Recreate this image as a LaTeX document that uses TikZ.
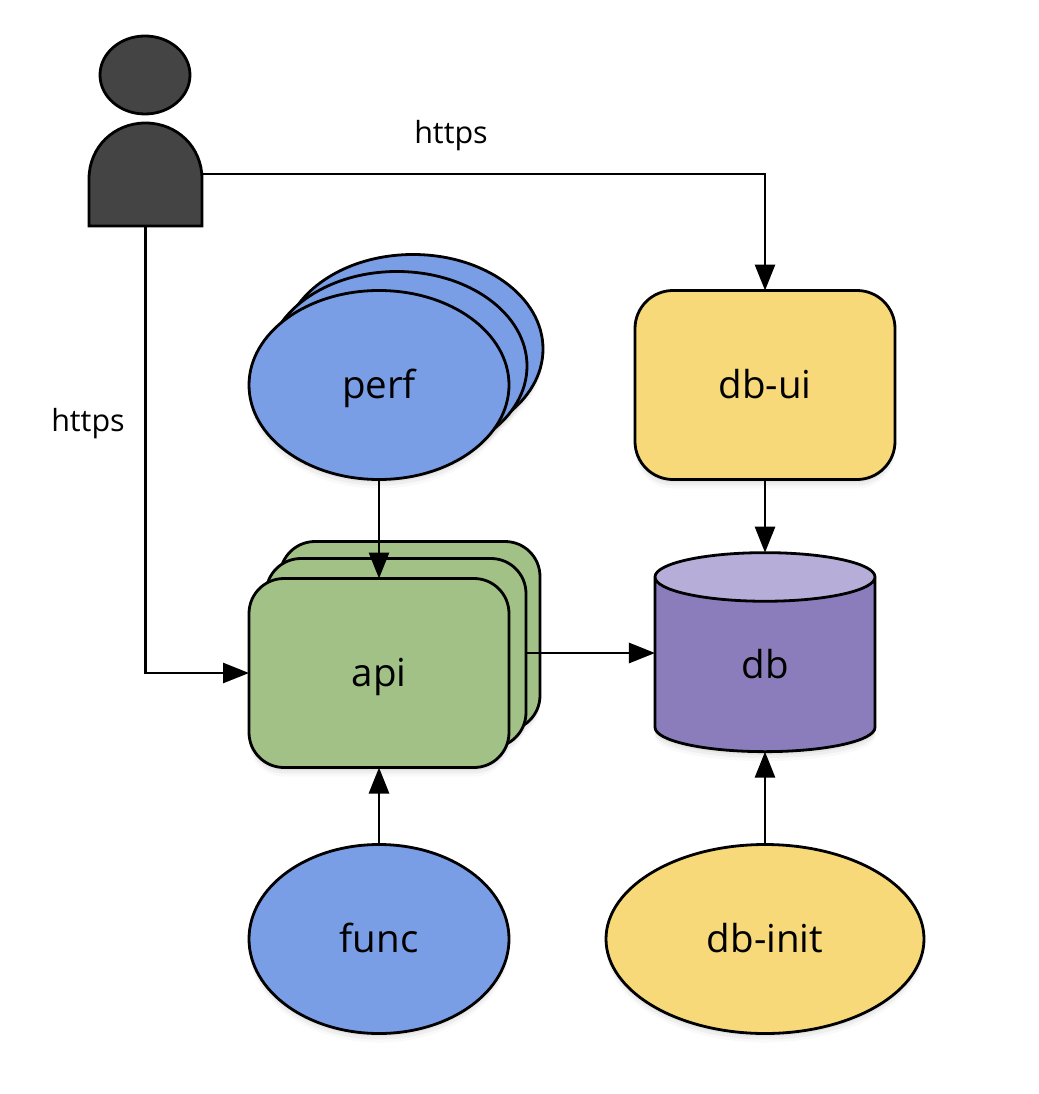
\documentclass[tikz,border=0pt]{standalone}
\usepackage{fontspec}
\setmainfont{Open Sans}
\usetikzlibrary{arrows.meta,shapes.geometric,shadows}
\definecolor{perfblue}{HTML}{7A9EE6}
\definecolor{uiyellow}{HTML}{F7D97A}
\definecolor{apigreen}{HTML}{A1C186}
\definecolor{dbpurple}{HTML}{8B7DBB}
\definecolor{dbtop}{HTML}{B6AED8}
\definecolor{userdark}{HTML}{444444}
\tikzset{
	softshade/.style={drop shadow={shadow xshift=0pt,shadow yshift=-3pt,opacity=.10},drop shadow={shadow xshift=0pt,shadow yshift=-6pt,opacity=.08},drop shadow={shadow xshift=0pt,shadow yshift=-9pt,opacity=.05}},
	bigtext/.style={font=\fontsize{38.5}{42}\selectfont,text height=26pt,text depth=0pt},
	oval/.style={ellipse,draw=black,line width=2.8pt,inner sep=0pt,outer sep=0pt,bigtext,softshade},
	card/.style={rectangle,draw=black,line width=2.8pt,inner sep=0pt,outer sep=0pt,minimum width=260pt,minimum height=189pt,bigtext,softshade},
	dbcan/.style={cylinder,shape border rotate=90,aspect=1.03,draw=black,line width=2.8pt,minimum width=220pt,minimum height=199pt,inner sep=0pt,outer sep=0pt,bigtext},
	link/.style={draw=black,line width=2.8pt,-{Triangle[length=26pt,width=20pt]}},
	plain/.style={font=\fontsize{30.5}{34}\selectfont}
}
\begin{document}
\begin{tikzpicture}[x=1pt,y=-1pt]
	\useasboundingbox (0,0) rectangle (1038,1094);
	% user
	\node[ellipse,draw=black,fill=userdark,line width=2.8pt,minimum width=90pt,minimum height=78pt,inner sep=0pt] (userhead) at (145,75) {};
	\draw[draw=black,fill=userdark,line width=2.8pt,line join=miter] (89,226) -- (89,179) .. controls (89,147) and (114,123) .. (145.5,123) .. controls (177,123) and (202,147) .. (202,179) -- (202,226) -- cycle;
	\coordinate (userside) at (202,174);
	\coordinate (userfoot) at (145.5,226);
	% perf
	\node[oval,fill=perfblue,minimum width=260pt,minimum height=189pt] (perfc) at (413,349) {};
	\node[oval,fill=perfblue,minimum width=260pt,minimum height=189pt] (perfb) at (397,366) {};
	\node[oval,fill=perfblue,minimum width=260pt,minimum height=189pt] (perf) at (379,385) {perf};
	% api
	\node[card,fill=apigreen,rounded corners=35pt] (apic) at (410,636) {};
	\node[card,fill=apigreen,rounded corners=35pt] (apib) at (396,653) {};
	\node[card,fill=apigreen,rounded corners=35pt] (api) at (379,673) {api};
	% right column
	\node[card,fill=uiyellow,rounded corners=38pt] (dbui) at (765,385) {db-ui};
	\path[fill=dbpurple,softshade] (655,577) -- (655,728) arc (180:360:110pt and 24pt) -- (875,577) arc (0:180:110pt and 24pt) -- cycle;
	\node[dbcan,cylinder uses custom fill,cylinder body fill=dbpurple,cylinder end fill=dbtop] (db) at (765,665) {db};
	% bottom
	\node[oval,fill=perfblue,minimum width=260pt,minimum height=189pt] (func) at (379,939) {func};
	\node[oval,fill=uiyellow,minimum width=318pt,minimum height=189pt] (dbinit) at (765,939) {db-init};
	% links
	\draw[link] (userside) -| (dbui.north);
	\draw[link] (userfoot) |- (api.west);
	\draw[link] (perf.south) -- (api.north);
	\draw[link] (apib.east) -- (apib.east -| db.west);
	\draw[link] (func.north) -- (api.south);
	\draw[link] (dbui.south) -- (db.north);
	\draw[link] (dbinit.north) -- (db.south);
	% labels
	\node[plain] (httpstop) at (451,136) {https};
	\node[plain] (httpsleft) at (88,424) {https};
\end{tikzpicture}
\end{document}
